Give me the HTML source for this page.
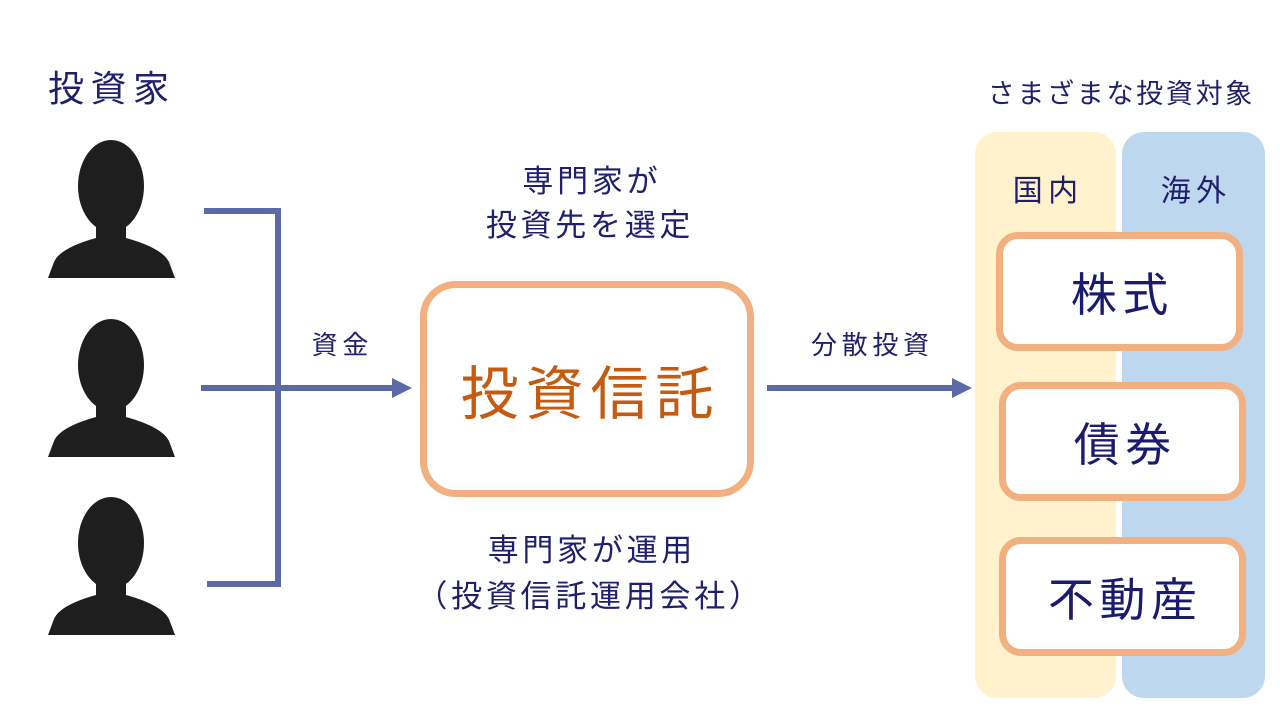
<!DOCTYPE html>
<html><head><meta charset="utf-8"><style>
body{margin:0;width:1280px;height:720px;background:#fff;position:relative;overflow:hidden;font-family:"Liberation Sans","Noto Sans CJK JP",sans-serif;color:#1f1f6e}
.t{position:absolute;white-space:nowrap;text-align:center;letter-spacing:0.18em;text-indent:0.18em}
.box{position:absolute;box-sizing:border-box;border:7px solid #f2b080;background:#fff;border-radius:22px;display:flex;align-items:center;justify-content:center;font-size:46px;color:#1a1a6e;letter-spacing:0.12em;text-indent:0.12em}
</style></head><body>
<svg width="1280" height="720" style="position:absolute;left:0;top:0">
<defs><g id="p"><ellipse cx="111" cy="186" rx="33" ry="46"/><path d="M96 225 L96 238 Q60 248 54 262 L48 278 L175 278 L169 262 Q162 248 126 238 L126 225 Z"/></g></defs>
<g fill="#1e1e1e"><use href="#p"/><use href="#p" y="179"/><use href="#p" y="357"/></g>
<g stroke="#5b6aa6" stroke-width="6" fill="none">
<path d="M204 211 H278 V584 H207"/><path d="M201 388 H395"/><path d="M767 388 H955"/></g>
<g fill="#5b6aa6"><path d="M392 378 L412 388 L392 398Z"/><path d="M952 378 L972 388 L952 398Z"/></g>
<rect x="975" y="132" width="141" height="566" rx="22" fill="#fff2cc"/>
<rect x="1122" y="132" width="143" height="566" rx="22" fill="#bdd7ee"/>
</svg>
<div class="t" style="left:48px;top:60px;font-size:36px;text-indent:0">投資家</div>
<div class="t" style="left:965px;top:72px;width:310px;font-size:27px;letter-spacing:0.1em;text-indent:0.1em">さまざまな投資対象</div>
<div class="t" style="left:975px;top:166px;width:141px;font-size:30px">国内</div>
<div class="t" style="left:1122px;top:166px;width:143px;font-size:30px">海外</div>
<div class="t" style="left:440px;top:160px;width:300px;font-size:31px;line-height:44px;letter-spacing:0.12em;text-indent:0.12em">専門家が<br>投資先を選定</div>
<div class="t" style="left:390px;top:528px;width:400px;font-size:31px;line-height:46px;letter-spacing:0.12em;text-indent:0.12em">専門家が運用<br>（投資信託運用会社）</div>
<div class="t" style="left:290px;top:325px;width:100px;font-size:26px">資金</div>
<div class="t" style="left:780px;top:325px;width:180px;font-size:26px">分散投資</div>
<div class="box" style="left:420px;top:281px;width:334px;height:216px;border-radius:36px;color:#c55a11;font-size:58px">投資信託</div>
<div class="box" style="left:996px;top:232px;width:247px;height:119px">株式</div>
<div class="box" style="left:999px;top:382px;width:247px;height:119px">債券</div>
<div class="box" style="left:999px;top:537px;width:247px;height:119px">不動産</div>
</body></html>
